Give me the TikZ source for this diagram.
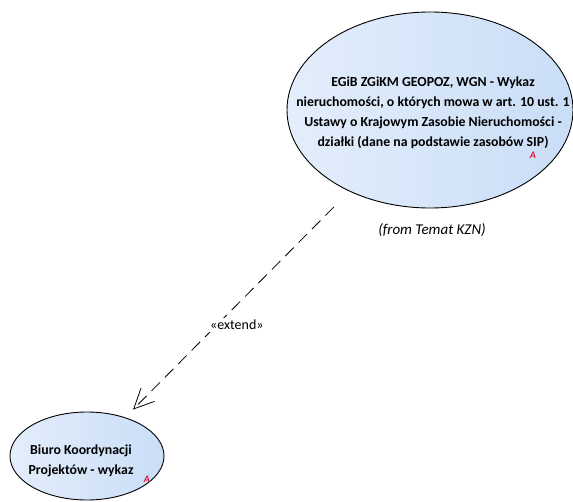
\documentclass[tikz,border=0pt]{standalone}
\usepackage{fontspec}
\setmainfont{Carlito}
\usetikzlibrary{shapes.geometric, arrows.meta, positioning}

\definecolor{ucEdge}{RGB}{200,219,245}
\definecolor{ucLight}{RGB}{229,239,252}
\definecolor{ucDeep}{RGB}{188,213,244}
\definecolor{markRed}{RGB}{222,22,58}
\pgfdeclarehorizontalshading{ucshade}{100bp}{color(0bp)=(ucEdge); color(22bp)=(ucLight); color(100bp)=(ucDeep)}

\tikzset{
  usecase/.style={ellipse, draw=black, line width=0.9pt, shading=ucshade, inner sep=0pt},
  uctext/.style={font=\fontsize{13.8}{20}\selectfont\bfseries, align=center, inner sep=0pt},
  markA/.style={font=\fontsize{10}{10}\selectfont\bfseries\itshape, text=markRed, inner sep=0pt},
  extendline/.style={line width=0.8pt, dash pattern=on 12pt off 7pt,
    -{Straight Barb[length=20pt, width=19pt]}},
}

\begin{document}
\begin{tikzpicture}[x=1pt, y=-1pt]

  %% ---- Canvas ----
  \useasboundingbox (0,0) rectangle (573,502);

  %% ---- Use cases ----
  \node[usecase, minimum width=286pt, minimum height=196pt] (wykazKZN) at (430,110) {};
  \node[usecase, minimum width=154pt, minimum height=88pt] (biuroKP) at (87,456) {};

  %% ---- Use case texts ----
  \node[uctext] (wykazText) at (433,113)
    {EGiB ZGiKM GEOPOZ, WGN - Wykaz\\
     nieruchomości, o których mowa w art. 10 ust. 1\\
     Ustawy o Krajowym Zasobie Nieruchomości -\\
     działki (dane na podstawie zasobów SIP)};
  \node[markA] (wykazMark) at (533,155) {A};
  \node[font=\fontsize{15}{17}\selectfont\itshape, inner sep=0pt] (wykazFrom) at (432,230)
    {(from Temat KZN)};

  \node[uctext] (biuroText) at (81,461) {Biuro Koordynacji\\ Projektów - wykaz};
  \node[markA] (biuroMark) at (147,479) {A};

  %% ---- extend: dashed, open barb at the small use case ----
  \draw[extendline, shorten <=22pt, shorten >=11pt]
    (wykazKZN) -- (biuroKP)
    node[pos=0.52, xshift=4pt, yshift=-16pt, fill=white, inner sep=2pt,
         font=\fontsize{14}{15}\selectfont] (extendLabel) {«extend»};

\end{tikzpicture}
\end{document}
